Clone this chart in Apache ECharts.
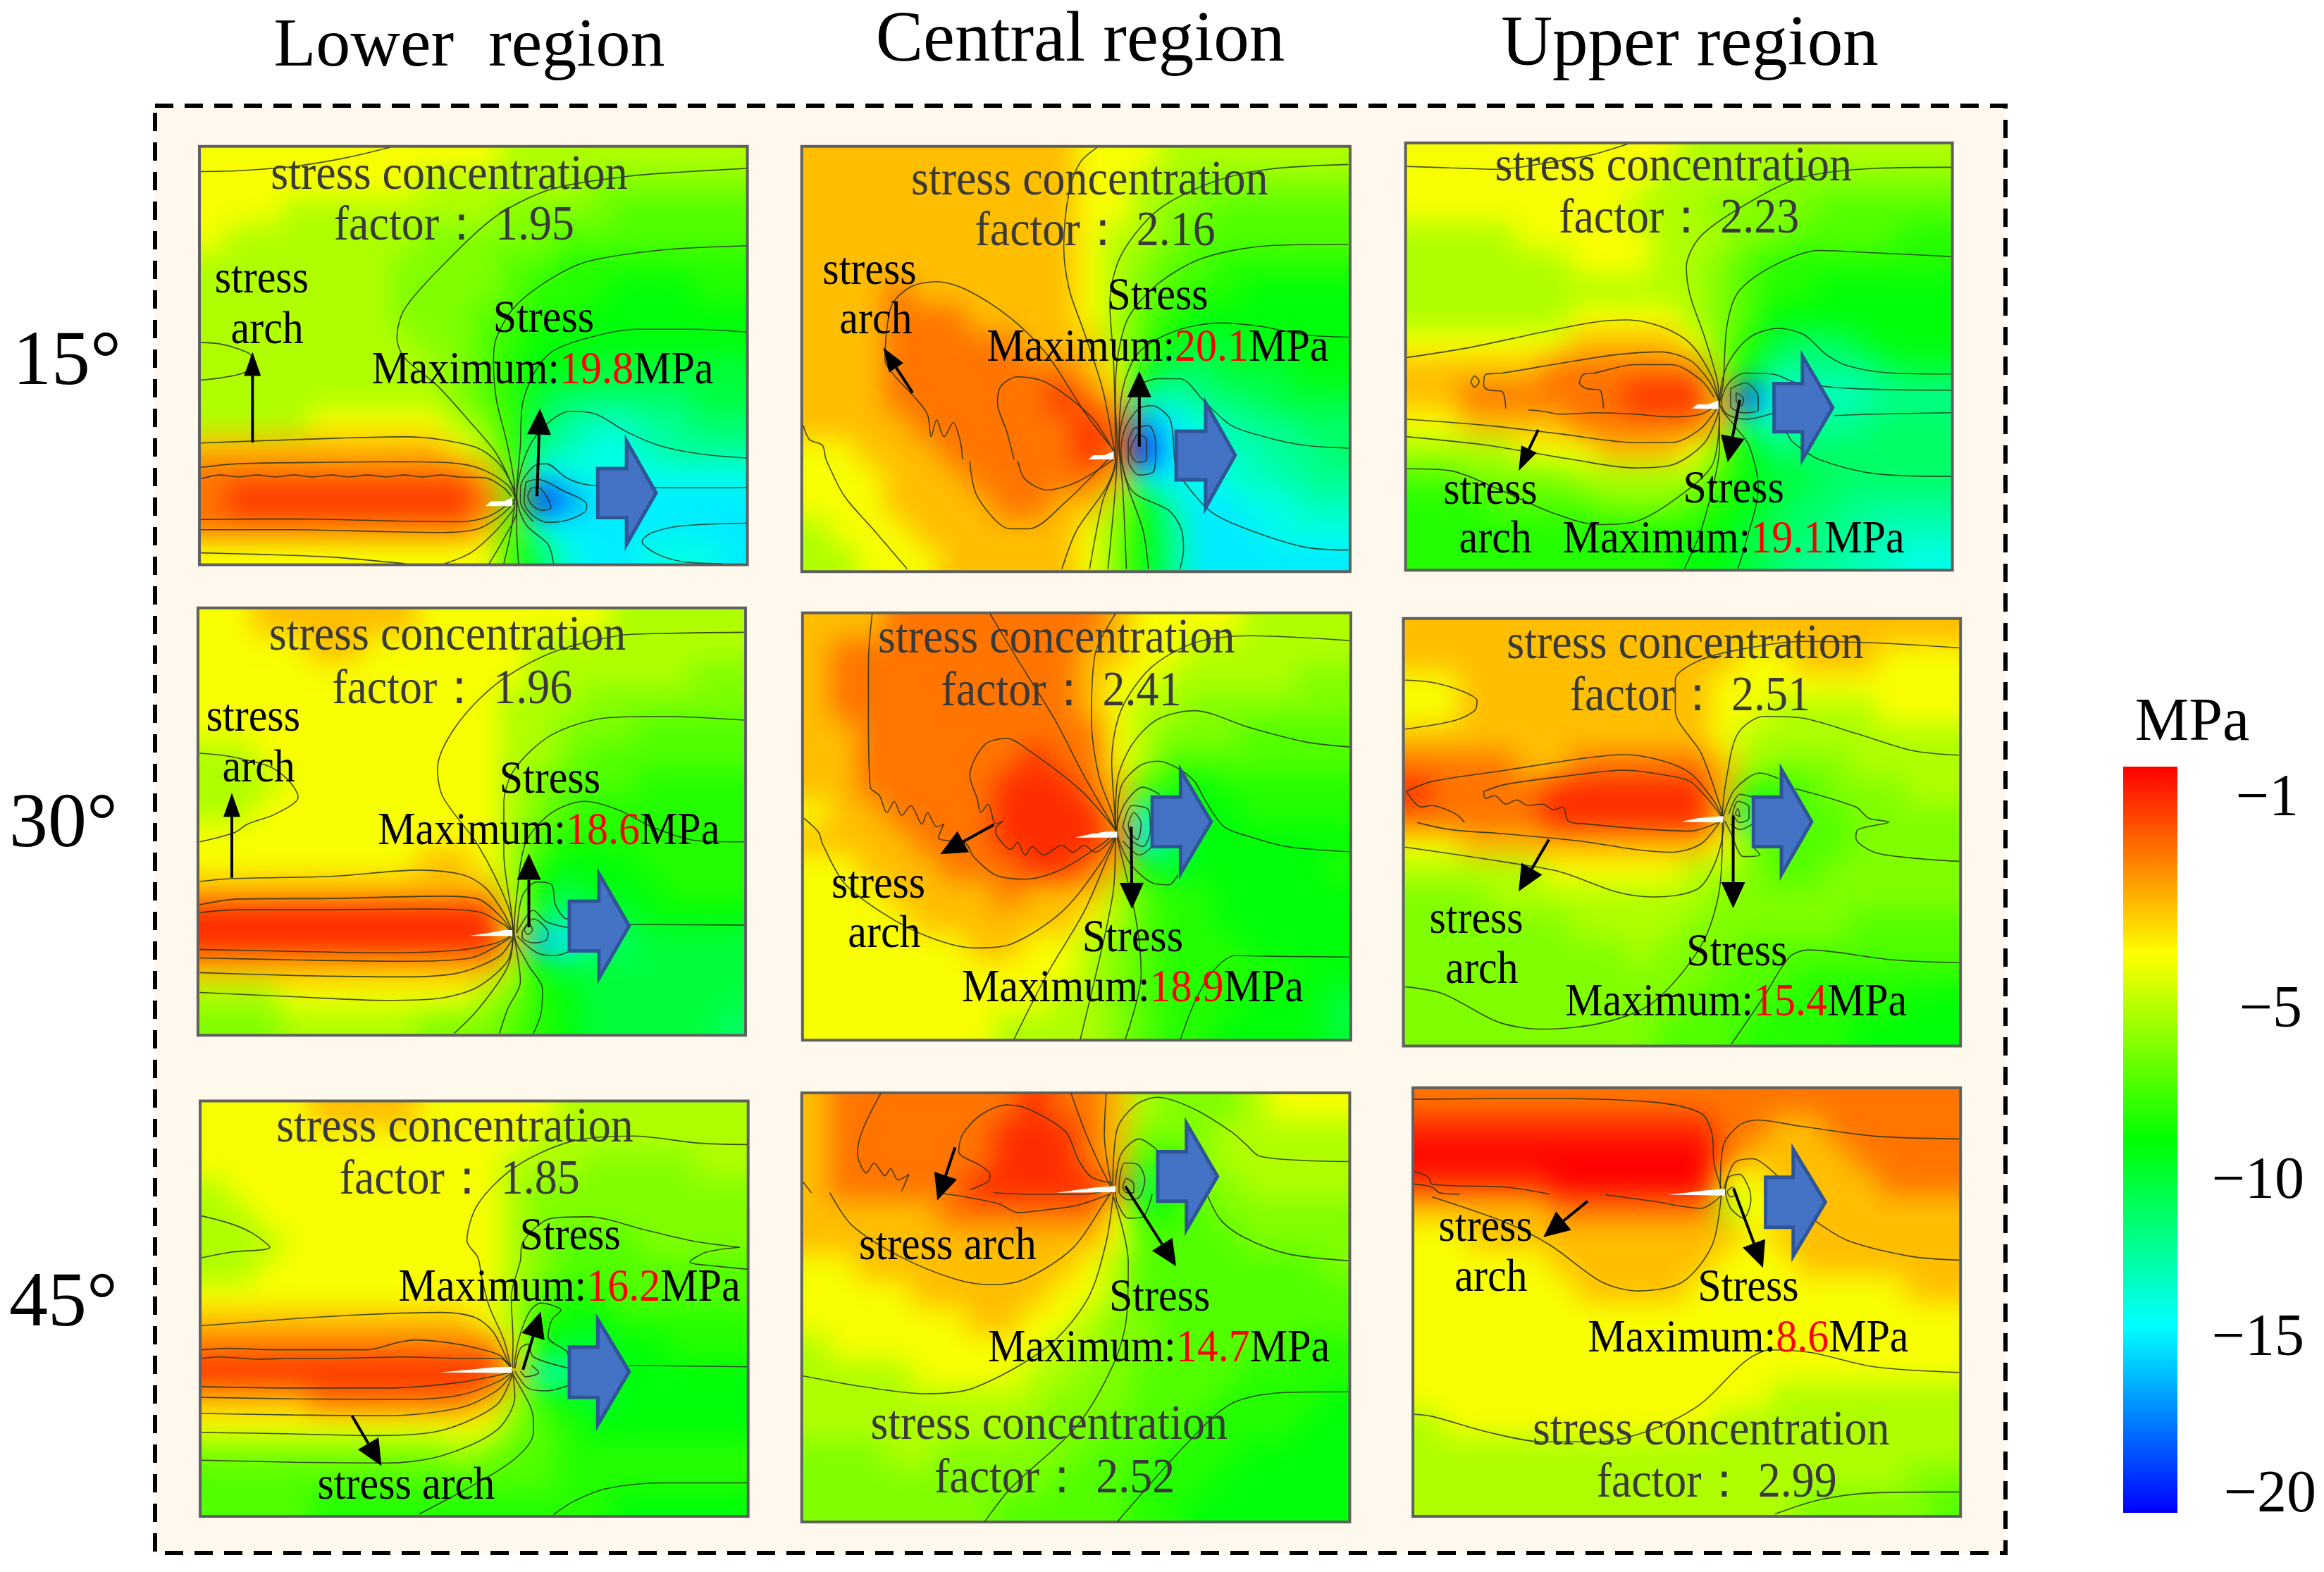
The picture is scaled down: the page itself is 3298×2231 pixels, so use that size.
<!DOCTYPE html>
<html><head><meta charset="utf-8"><title>Stress contours</title>
<style>html,body{margin:0;padding:0;background:#fff}#page{position:relative;width:3298px;height:2231px;overflow:hidden}
.abs{position:absolute}</style>
<script src="https://cdn.jsdelivr.net/npm/echarts@6/dist/echarts.min.js"></script></head>
<body><div id="page"></div>
<script>
// Compressive stress magnitude (MPa), 20 columns x 16 rows. Colour bar shows the negative sign.
const heat15Lower=[
[4,4,4,4,4,4,4,4,4,4,4,5,5,5,5,5,5,5,5,5],[4,4,4,4,4,4,4,4,5,5,5,5,5,5,6,6,6,6,6,6],[4,4,4,5,5,5,5,5,5,5,5,6,6,6,6,7,7,7,7,7],[4,5,5,5,5,5,5,5,6,6,6,6,6,7,7,7,7,7,7,7],
[5,5,5,5,5,5,5,6,6,6,6,7,7,8,8,8,8,8,8,8],[5,5,5,5,5,5,5,6,6,6,6,7,8,8,8,9,9,9,8,8],[5,5,5,5,5,5,5,6,6,6,7,7,8,8,9,9,9,9,9,9],[5,5,5,5,5,5,5,5,6,6,7,8,9,9,9,9,9,9,9,9],
[5,5,5,5,5,5,5,5,5,6,7,8,9,9,10,10,10,10,10,10],[5,5,5,5,5,5,5,5,5,6,7,8,10,11,11,11,11,11,10,10],[5,5,5,5,4,4,4,4,4,5,6,8,11,12,13,13,12,12,11,11],[3,3,3,3,3,3,3,3,3,4,5,8,12,13,14,14,13,12,12,12],
[2,2,2,2,2,2,2,2,2,2,3,7,15,14,14,14,14,14,14,14],[2,1,1,1,1,1,1,1,1,1,2,6,20,17,15,15,15,15,15,15],[2,2,2,2,2,2,2,2,2,2,3,7,14,15,15,15,15,15,15,15],[4,4,4,4,4,4,4,4,4,4,4,8,11,14,15,15,14,14,14,15]];
const heat15Central=[
[3,3,3,3,3,3,3,3,3,3,4,4,4,5,5,5,5,5,5,5],[3,3,3,3,3,3,3,3,3,3,4,4,5,5,6,6,6,6,6,6],[3,3,3,3,3,3,3,3,3,3,4,4,5,6,6,7,7,7,7,7],[3,3,3,3,3,3,3,3,3,3,4,5,5,6,7,7,7,7,7,7],
[3,3,3,3,3,3,3,3,3,3,4,5,6,7,7,8,8,8,8,8],[3,3,3,2,3,3,3,3,3,3,4,5,6,7,8,8,9,9,9,9],[3,3,3,2,2,2,3,3,3,3,4,5,7,8,9,9,9,9,9,9],[3,3,3,2,2,2,2,2,3,3,3,5,7,9,10,10,9,9,9,9],
[3,3,3,2,2,2,2,2,2,2,3,4,9,11,11,10,10,10,9,9],[3,3,3,2,2,2,2,2,2,1,2,3,13,13,12,11,11,10,10,10],[3,3,3,3,2,2,2,2,2,2,1,2,17,15,14,13,12,12,11,11],[4,4,3,3,3,2,2,2,2,2,1,2,20,15,14,13,13,12,12,11],
[4,4,4,3,3,3,2,2,2,2,2,3,14,15,14,14,13,13,12,12],[4,4,4,3,3,3,3,2,2,3,3,5,9,13,15,15,14,14,13,13],[5,4,4,4,3,3,3,3,3,3,4,6,9,12,15,15,15,14,14,14],[5,5,4,4,4,3,3,3,3,3,4,6,9,12,15,15,15,15,15,15]];
const heat15Upper=[
[4,4,4,4,4,4,4,4,4,4,5,5,5,5,5,5,5,5,5,5],[4,4,4,4,4,4,4,4,4,5,5,5,5,6,6,6,6,6,6,6],[4,4,4,4,4,4,4,4,5,5,5,6,6,6,6,7,7,7,7,7],[5,5,5,5,4,4,4,4,4,5,5,5,6,6,7,7,7,7,8,8],
[5,5,5,5,5,5,4,4,4,5,5,6,7,8,8,8,8,8,8,8],[5,5,5,5,5,5,5,5,5,5,5,6,7,8,8,9,9,9,9,9],[5,5,5,5,5,5,4,4,4,4,5,6,7,9,9,9,9,9,9,9],[4,4,4,4,4,4,3,3,3,3,4,6,8,10,11,11,10,9,9,9],
[3,3,3,3,3,2,2,2,2,2,2,5,9,12,12,12,12,11,10,10],[3,3,2,2,2,2,2,2,1,1,1,3,19,14,14,13,13,12,12,12],[4,4,3,3,3,3,2,2,2,2,2,3,12,13,13,12,12,11,11,11],[5,5,5,5,4,4,4,3,3,3,4,6,9,11,11,11,11,11,11,11],
[7,7,6,6,6,6,5,5,5,5,5,7,9,10,10,11,11,11,11,11],[8,8,8,7,7,7,7,6,6,6,7,8,9,10,11,11,12,12,12,12],[8,8,8,8,8,8,8,8,8,8,8,9,10,11,11,12,12,13,13,13],[8,8,8,8,8,8,8,8,8,8,9,9,10,11,12,12,13,13,14,14]];
const heat30Lower=[
[4,4,3,3,3,3,3,3,4,4,4,4,4,4,4,5,5,5,5,5],[4,4,4,4,3,3,4,4,4,4,4,4,5,5,5,5,5,5,5,5],[4,4,4,4,4,4,4,4,4,4,4,4,5,5,5,5,5,5,6,6],[4,4,4,4,4,4,4,4,4,4,4,5,5,5,6,6,6,6,6,6],
[4,4,4,4,4,4,4,4,4,4,4,5,5,6,6,6,7,7,7,7],[5,5,4,4,4,4,4,4,4,4,4,5,5,6,7,7,7,7,7,7],[5,5,5,4,4,4,4,4,4,4,4,5,6,7,7,7,8,8,8,8],[5,5,4,4,4,4,4,4,4,4,4,5,6,7,8,8,8,8,8,8],
[4,4,4,4,4,4,4,4,4,4,4,5,7,8,8,8,8,8,8,8],[4,4,4,4,4,4,4,4,3,3,4,5,8,9,9,9,8,8,8,8],[3,3,3,3,3,3,3,3,3,3,3,5,9,10,9,9,9,8,8,8],[1,1,1,1,1,1,1,1,1,1,1,4,10,12,11,10,9,9,9,9],
[1,1,1,1,1,1,1,1,1,1,1,3,16,15,12,11,10,10,10,10],[3,3,3,3,3,3,3,3,3,3,3,5,9,10,10,10,10,10,10,10],[5,5,5,4,4,4,4,4,4,4,5,6,8,9,10,10,10,10,10,10],[6,6,6,5,5,5,5,5,6,6,6,7,8,9,10,10,10,10,10,11]];
const heat30Central=[
[3,3,3,2,2,2,2,2,2,2,2,3,4,4,4,4,5,5,5,5],[3,2,2,2,2,2,2,2,2,2,3,3,4,4,5,5,5,5,5,5],[3,2,2,2,2,2,2,2,2,2,3,4,4,5,5,5,5,5,6,6],[3,2,2,2,2,2,2,2,2,2,3,4,5,5,6,6,6,6,6,6],
[3,3,2,2,2,2,2,2,2,2,2,4,5,6,6,6,7,7,7,7],[3,3,2,2,2,2,2,2,1,2,2,4,5,7,7,7,7,7,7,7],[3,3,2,2,2,2,2,1,1,1,2,3,7,8,9,8,8,8,8,8],[4,3,3,2,2,2,2,1,1,1,1,3,13,10,9,9,8,8,8,8],
[3,3,3,3,2,2,2,1,1,1,1,2,15,11,9,9,9,9,9,9],[4,4,3,3,3,2,2,2,1,1,2,3,9,10,9,9,9,9,9,8],[4,4,4,3,3,3,3,2,3,3,3,5,7,8,8,9,9,9,9,9],[4,4,4,4,3,3,3,3,3,3,4,5,7,8,8,9,9,9,9,9],
[4,4,4,4,4,4,3,3,4,4,5,6,7,8,8,8,9,9,9,9],[4,4,4,4,4,4,4,4,4,4,5,6,7,8,8,8,8,8,9,9],[4,4,4,4,4,4,4,4,4,5,5,6,7,8,8,8,9,9,9,10],[4,4,4,4,4,4,4,5,5,5,5,6,7,8,8,9,9,9,9,10]];
const heat30Upper=[
[3,3,3,3,3,3,3,3,3,3,3,3,3,3,3,3,3,3,3,3],[3,3,3,3,3,3,3,3,3,3,3,3,4,4,3,3,3,4,4,4],[4,4,3,3,3,3,3,3,3,3,3,4,4,4,4,4,4,4,4,4],[4,4,3,3,3,3,3,3,3,3,3,4,4,5,5,5,5,4,4,4],
[3,3,3,3,3,3,3,3,3,3,3,4,5,5,5,5,5,5,5,5],[2,2,2,2,3,3,2,2,2,2,2,3,5,6,6,6,5,5,5,5],[1,2,2,2,2,1,1,1,1,1,1,3,8,8,7,6,6,6,5,5],[2,2,2,2,2,1,1,1,1,1,1,3,12,7,7,7,6,6,6,6],
[4,4,3,3,3,3,3,3,3,3,3,4,6,7,7,7,6,6,6,6],[5,5,5,5,5,4,4,4,4,4,5,5,6,7,7,6,6,6,6,6],[6,6,6,5,5,5,5,5,5,5,5,6,6,6,6,6,6,6,6,6],[6,6,6,6,6,6,5,5,5,5,6,6,6,6,6,6,7,7,7,7],
[6,6,6,6,6,6,6,6,5,6,6,6,7,7,7,7,7,7,7,7],[6,6,6,6,6,6,6,6,6,6,6,7,7,7,8,8,8,8,8,8],[6,6,6,6,6,6,6,6,6,6,7,7,7,8,8,8,8,8,9,9],[6,6,6,6,6,6,6,6,6,7,7,7,8,8,8,8,9,9,9,9]];
const heat45Lower=[
[4,4,4,4,3,3,3,3,4,4,4,4,4,5,5,5,5,5,5,5],[4,4,4,4,4,4,4,4,4,4,4,4,5,5,5,5,5,5,5,5],[4,4,4,4,4,4,4,4,4,4,4,5,5,5,6,6,6,6,5,5],[5,4,4,4,4,4,4,4,4,4,4,5,6,6,6,6,6,6,6,6],
[5,5,4,4,4,4,4,4,4,4,4,5,6,6,6,6,6,6,6,6],[5,5,5,4,4,4,4,4,4,4,4,5,6,7,7,7,6,6,6,6],[5,5,4,4,4,4,4,4,4,4,4,5,6,7,7,7,7,7,7,7],[4,4,4,4,4,4,4,4,4,4,4,5,7,8,8,7,7,7,7,7],
[3,3,3,3,3,3,3,3,3,3,4,5,8,9,9,8,8,8,8,8],[2,2,2,2,2,2,2,2,2,2,2,4,9,10,10,9,9,8,8,8],[1,1,1,1,1,1,1,1,1,1,1,3,13,12,10,9,9,9,9,9],[3,3,3,3,2,2,2,2,2,2,3,5,8,9,10,9,9,9,9,9],
[4,4,4,4,4,4,4,4,4,4,4,6,7,8,9,9,9,9,9,9],[6,6,6,6,6,6,6,6,6,5,6,7,7,8,8,8,8,8,8,8],[7,7,7,7,7,7,7,7,7,7,7,7,7,8,8,8,8,8,8,8],[7,7,7,7,8,8,8,8,8,8,8,8,8,8,8,9,9,9,9,9]];
const heat45Central=[
[3,2,2,2,2,2,2,2,1,2,2,3,5,6,6,6,5,4,4,4],[3,2,2,2,2,2,2,1,1,1,2,3,6,6,6,5,5,5,5,5],[3,2,2,2,2,2,2,1,1,1,2,3,7,8,6,5,5,5,5,5],[3,2,2,2,2,2,1,1,1,1,1,2,11,8,6,6,5,5,5,5],
[3,3,3,3,3,2,2,2,2,2,2,4,8,8,7,6,6,6,6,6],[3,3,3,3,3,3,3,3,3,3,3,4,7,7,7,7,6,6,6,6],[4,4,3,3,3,3,3,3,3,3,4,5,7,7,7,7,7,7,7,6],[4,4,4,4,3,3,3,3,3,4,4,5,7,7,7,7,7,7,7,7],
[4,4,4,4,4,4,3,3,4,4,5,6,6,7,7,7,7,7,7,7],[5,4,4,4,4,4,4,4,4,5,5,6,6,7,7,7,7,7,8,8],[5,5,5,5,4,4,4,4,5,5,6,6,7,7,7,7,8,8,8,8],[5,5,5,5,5,5,5,5,5,6,6,6,7,7,7,8,8,8,8,9],
[5,5,5,5,5,5,5,5,6,6,6,7,7,7,8,8,8,8,9,9],[6,6,6,5,5,6,6,6,6,6,7,7,7,8,8,8,9,9,9,9],[6,6,6,6,6,6,6,6,6,7,7,7,8,8,8,9,9,9,9,9],[6,6,6,6,6,6,6,7,7,7,7,7,8,8,9,9,9,9,9,9]];
const heat45Upper=[
[2,2,2,2,2,2,2,2,2,2,2,2,2,2,2,2,2,2,2,2],[1,1,1,1,1,1,1,1,1,1,1,2,2,3,3,2,2,2,2,2],[0,0,0,0,0,0,0,0,0,0,0,2,3,3,3,3,2,2,2,2],[1,1,1,1,1,0,0,0,0,0,0,4,4,3,3,3,3,2,2,2],
[3,3,3,3,3,2,2,2,2,2,2,5,4,4,3,3,3,3,3,3],[4,4,3,3,3,3,3,3,3,3,3,3,4,3,3,3,3,3,3,3],[4,4,4,4,4,3,3,3,3,3,3,4,4,4,3,3,3,3,3,3],[4,4,4,4,4,4,3,3,3,3,4,4,4,4,4,4,4,4,3,3],
[4,4,4,4,4,4,4,4,4,4,4,4,4,4,4,4,4,4,4,4],[4,4,4,4,4,4,4,4,4,4,4,4,4,4,4,4,4,4,4,4],[4,4,4,4,4,4,4,4,4,4,4,4,4,4,4,4,4,4,4,4],[4,4,4,4,4,4,4,4,4,4,4,4,4,5,5,5,5,5,5,5],
[5,4,4,4,4,4,4,4,4,4,4,5,5,5,5,5,5,5,5,5],[5,5,5,5,5,5,5,5,5,5,5,5,5,5,5,5,5,5,5,5],[5,5,5,5,5,5,5,5,5,5,5,5,5,5,5,5,5,5,6,6],[5,5,5,5,5,5,5,5,5,5,5,5,5,5,6,6,6,6,6,7]];

// Colour of each integer magnitude 0..20.
const scaleColors=['#ff0000','#ff2d00','#ff7500','#ffbe00','#f8ff00','#afff00','#80ff00','#52ff00','#24ff00','#00ff0b','#00ff3a','#00ff66','#00ff90','#00ffbb','#00ffe6','#00edff','#00c2ff','#0098ff','#006dff','#0042ff','#0017ff'];
const barColors=['#ff0000','#ffff00','#00ff00','#00ffff','#0000ff'];
const barLabels=['−1','−5','−10','−15','−20'];
const barLabelFraction=[0.044,0.328,0.557,0.768,0.977];
const barLabelRight=[3262,3267,3270,3270,3287];
const columnTitles=['Lower  region','Central region','Upper region'];
const rowTitles=['15°','30°','45°'];

// Contour lines, traced in zoom-crop units of each panel.
const lines15Lower=[
[[48,133],[150,130],[300,115],[440,85],[560,48]],
[[1528,122],[1350,135],[1205,150],[1000,195],[850,290],[700,470],[600,620],[580,720],[600,790],[690,890],[780,1020],[850,1130],[900,1270],[905,1330],[870,1430],[830,1518]],
[[1528,395],[1300,410],[1100,450],[1000,510],[900,610],[850,720],[842,800],[850,940],[880,1100],[900,1270],[890,1400],[870,1518]],
[[1528,700],[1380,690],[1230,690],[1100,720],[1000,770],[950,850],[920,960],[915,1100],[905,1270],[905,1400],[910,1518]],
[[1528,1145],[1400,1130],[1290,1100],[1200,1050],[1120,990],[1050,980],[1000,1010],[950,1080],[920,1170],[905,1280],[930,1380],[990,1450],[1005,1518]],
[[1528,1250],[1280,1250],[1100,1240],[1040,1215],[985,1165],[950,1175],[915,1250],[915,1300],[950,1370]],
[[930,1230],[960,1220],[1030,1260],[1095,1310],[1090,1335],[1040,1365],[990,1372],[950,1350],[925,1300],[930,1230]],
[[945,1250],[965,1250],[990,1290],[998,1320],[975,1330],[950,1315],[935,1280],[945,1250]],
[[1528,1375],[1350,1385],[1270,1410],[1245,1440],[1280,1480],[1350,1510],[1460,1518]],
[[48,737],[100,742],[150,760],[185,785],[175,835],[150,850],[100,862],[48,870]],
[[48,1092],[190,1085],[420,1075],[600,1070],[700,1080],[800,1110],[860,1170],[900,1260]],
[[48,1178],[150,1165],[400,1160],[600,1158],[750,1165],[820,1190],[880,1240],[900,1280]],
[[48,1218],[100,1205],[150,1212],[200,1205],[250,1212],[300,1205],[350,1212],[400,1205],[450,1212],[500,1205],[550,1212],[600,1205],[650,1212],[700,1205],[750,1212],[820,1215],[870,1250],[890,1280]],
[[48,1362],[300,1360],[600,1368],[750,1370],[830,1350],[900,1290]],
[[48,1398],[300,1398],[550,1405],[700,1408],[800,1395],[860,1350],[900,1300]],
[[48,1480],[200,1485],[400,1495],[600,1518]],
[[710,1518],[780,1480],[850,1400],[900,1320]]];
const lines15Central=[
[[835,48],[790,100],[760,200],[745,400],[760,550],[800,700],[850,900],[880,1100],[885,1150],[860,1250],[780,1400],[740,1537]],
[[1517,108],[1300,125],[1150,170],[1000,270],[900,430],[870,600],[880,800],[885,1100],[885,1160],[850,1300],[815,1537]],
[[1517,390],[1300,395],[1120,440],[1000,530],[920,650],[890,800],[885,950],[890,1100],[885,1250],[865,1537]],
[[1517,718],[1400,710],[1280,680],[1170,668],[1050,695],[950,770],[905,900],[895,1100],[905,1250],[915,1537]],
[[1517,1110],[1400,1100],[1290,1070],[1200,1030],[1130,950],[1060,865],[1000,865],[950,890],[910,980],[895,1100],[920,1250],[960,1400],[975,1537]],
[[1517,1470],[1400,1460],[1250,1400],[1150,1340],[1090,1260],[1050,1180],[1040,1050],[1030,1000],[985,960],[950,970],[915,1030],[900,1110],[930,1260],[1030,1330],[1065,1400],[1070,1470],[1060,1537]],
[[935,1040],[975,1030],[995,1100],[990,1190],[950,1205],[920,1150],[920,1090],[935,1040]],
[[945,1060],[970,1080],[970,1150],[945,1160],[925,1120],[945,1060]],
[[470,1150],[465,1090],[445,1020],[420,1070],[400,1010],[385,1070],[375,990],[340,930],[290,860],[260,800],[265,690],[280,600],[330,540],[400,522],[480,550],[600,650],[700,780],[800,980],[870,1100]],
[[490,1155],[510,1280],[600,1395],[650,1395],[750,1300],[880,1130]],
[[610,1150],[590,1050],[565,950],[575,890],[620,858],[700,880],[820,1000],[880,1120]],
[[620,1155],[640,1220],[700,1258],[780,1230],[880,1150]],
[[38,1030],[55,1080],[90,1100],[100,1150],[150,1280],[230,1400],[320,1537]]];
const lines15Upper=[
[[32,115],[150,120],[280,125],[420,100],[530,75],[630,36]],
[[1508,118],[1300,122],[1100,155],[950,250],[830,360],[790,470],[800,570],[840,720],[875,880],[878,950],[880,1100],[870,1200],[830,1400],[785,1535]],
[[1508,433],[1300,420],[1150,412],[1020,470],[930,560],[900,680],[890,880],[880,950]],
[[1508,848],[1350,845],[1230,820],[1170,780],[1110,710],[1040,687],[960,720],[900,820],[880,950],[920,1030],[960,1100],[985,1250],[950,1450],[930,1535]],
[[1508,905],[1250,900],[1090,880],[1030,850],[950,845],[905,880],[885,950],[900,990],[950,1008],[1030,985]],
[[1508,985],[1300,990],[1190,995]],
[[1508,1210],[1300,1200],[1150,1150],[1080,1090],[1060,1050]],
[[910,900],[950,880],[985,930],[985,975],[945,985],[910,960],[910,900]],
[[925,915],[945,935],[940,960],[925,940],[925,915]],
[[32,790],[200,755],[400,700],[540,665],[630,657],[720,680],[800,740],[860,860],[878,950]],
[[32,1008],[250,1030],[450,1060],[650,1090],[750,1090],[830,1040],[878,960]],
[[32,1070],[250,1100],[480,1150],[650,1180],[750,1170],[840,1090],[878,980]],
[[32,1183],[150,1190],[280,1255],[430,1340],[550,1380],[650,1370],[760,1290],[860,1170],[880,1000]],
[[300,970],[290,910],[255,905],[240,890],[245,850],[290,845],[450,810],[600,780],[720,770],[800,800],[850,870],[878,940]],
[[565,970],[555,905],[520,900],[500,880],[510,850],[540,845],[650,815],[750,815],[830,870],[865,930]],
[[360,975],[400,980],[450,990],[550,985],[650,990],[750,1000],[830,990],[875,955]],
[[205,875],[215,855],[228,875],[215,895],[205,875]]];
const lines30Lower=[
[[1522,118],[1300,122],[1180,130],[1000,190],[850,300],[740,450],[690,600],[705,700],[800,870],[880,1080],[895,1180],[880,1300],[800,1450],[735,1535]],
[[1522,428],[1300,415],[1150,420],[1000,480],[900,600],[870,720],[870,900],[890,1100],[897,1180],[915,1350],[880,1450],[858,1535]],
[[1522,858],[1400,855],[1280,810],[1180,745],[1090,715],[1000,755],[930,860],[905,1050],[898,1180],[935,1290],[975,1380],[970,1470],[950,1535]],
[[905,1180],[920,1050],[960,1000],[1000,1010],[1010,1080],[1040,1130],[1047,1130]],
[[1522,1152],[1210,1150]],
[[905,1180],[950,1100],[985,1140],[1047,1162]],
[[905,1190],[960,1250],[1010,1260],[1047,1245]],
[[920,1175],[950,1130],[990,1180],[985,1205],[950,1215],[920,1195],[920,1175]],
[[925,1170],[938,1145],[948,1170],[935,1185],[925,1170]],
[[45,545],[120,555],[230,590],[285,640],[312,700],[250,760],[175,795],[140,825],[45,858]],
[[45,998],[130,988],[400,980],[640,958],[760,975],[820,1020],[870,1110],[892,1170]],
[[45,1080],[150,1060],[400,1058],[700,1050],[800,1060],[860,1120],[890,1170]],
[[45,1108],[150,1098],[400,1098],[650,1095],[800,1105],[870,1150],[890,1175]],
[[45,1238],[300,1245],[550,1250],[750,1240],[850,1215],[890,1190]],
[[45,1268],[300,1275],[600,1280],[780,1268],[890,1195]],
[[45,1320],[300,1330],[600,1335],[750,1320],[860,1260],[895,1195]],
[[45,1390],[300,1405],[550,1418],[700,1410],[800,1370],[880,1280],[895,1200]]];
const lines30Central=[
[[545,28],[620,190],[720,400],[800,600],[885,790]],
[[885,28],[830,170],[820,400],[840,600],[885,790],[885,810],[860,900],[800,1080],[700,1300],[610,1530]],
[[1520,122],[1250,105],[1100,130],[980,220],[900,370],[875,550],[885,790],[885,810],[880,1000],[850,1200],[790,1530]],
[[1520,498],[1400,480],[1250,430],[1100,370],[1000,400],[930,490],[890,620],[885,790],[890,820],[940,1100],[955,1300],[912,1530]],
[[1520,868],[1350,850],[1250,815],[1180,780],[1130,690],[1100,620],[1050,570],[1000,548],[950,565],[900,640],[890,790],[920,900],[980,975],[1030,985],[1055,950]],
[[885,800],[910,700],[960,640],[1005,665]],
[[985,850],[950,880],[905,830]],
[[905,780],[930,705],[975,720],[980,790],[960,850],[925,825],[905,780]],
[[920,770],[935,730],[955,770],[945,825],[925,800],[920,770]],
[[1520,1240],[1350,1238],[1210,1235],[1150,1290],[1100,1400],[1062,1530]],
[[225,28],[215,200],[215,400],[220,640],[245,670],[265,730],[285,690],[305,740],[330,705],[360,770],[375,730],[400,780],[420,770],[405,820],[440,830],[480,840],[500,885],[560,950],[640,965],[740,930],[850,840],[885,800]],
[[885,790],[790,650],[650,510],[590,468],[530,490],[490,600],[510,680],[520,730],[540,700],[560,770],[580,760],[560,790],[565,815],[600,860],[620,835],[640,880],[660,850],[690,880],[740,845],[770,870],[800,845],[830,870],[885,810]],
[[40,750],[80,800],[90,840],[150,980],[260,1090],[380,1170],[500,1208],[600,1195],[740,1080],[850,900],[885,810]]];
const lines30Upper=[
[[1530,148],[1300,130],[1100,125],[950,150],[830,190],[760,260],[760,370],[830,520],[880,700],[888,745],[888,760],[880,1000],[830,1200],[700,1400],[570,1470],[400,1495],[280,1470],[130,1370],[27,1345]],
[[27,262],[100,270],[180,300],[222,335],[215,370],[160,405],[27,435]],
[[1530,527],[1400,510],[1250,450],[1100,395],[1000,390],[930,450],[900,600],[888,745],[892,760],[870,900],[820,1000],[700,1028],[600,1010],[450,940],[300,905],[27,852]],
[[1085,645],[1250,710],[1285,750],[1340,763],[1255,790],[1250,820],[1300,870],[1400,890],[1530,902]],
[[890,745],[920,650],[990,590],[1040,610]],
[[970,850],[990,880],[945,885],[910,800],[895,760]],
[[905,735],[935,665],[970,675]],
[[970,770],[935,790],[910,770]],
[[915,735],[930,690],[960,710],[960,750],[935,765],[915,735]],
[[922,735],[930,715],[935,745],[922,735]],
[[1530,1260],[1350,1250],[1120,1215],[1070,1240],[1000,1380],[912,1548]],
[[30,655],[100,620],[300,580],[500,540],[620,525],[720,545],[800,590],[860,680],[888,745]],
[[240,655],[300,630],[500,595],[620,580],[720,595],[800,620],[860,700],[885,745]],
[[240,655],[245,680],[270,670],[300,700],[330,685],[360,705],[400,700],[430,720],[455,710],[470,760],[520,770],[600,780],[700,790],[800,795],[885,760]],
[[30,655],[70,710],[100,705],[140,720],[170,740],[188,765]],
[[60,765],[150,790],[300,805],[500,830],[650,860],[750,870],[830,840],[885,755]]];
const lines45Lower=[
[[1530,210],[1400,205],[1220,180],[1050,200],[900,290],[800,420],[770,550],[800,610],[810,680],[830,780],[870,900],[890,1000],[895,1020],[950,1180],[950,1230],[880,1340],[640,1515]],
[[1510,573],[1380,550],[1250,510],[1100,465],[1000,470],[920,560],[915,620],[890,750],[895,900],[893,1000]],
[[1530,650],[1450,640],[1375,625],[1420,590],[1510,573]],
[[50,462],[130,490],[190,525],[235,573],[130,590],[50,610]],
[[897,1000],[910,900],[940,800],[970,770],[1025,795],[1000,830],[990,890],[1040,940],[1047,965]],
[[1530,995],[1210,990]],
[[900,1000],[915,930],[935,915],[950,960],[1047,1000]],
[[900,1010],[935,1070],[985,1080],[1047,1060]],
[[915,1010],[930,1030],[965,1015],[945,990]],
[[50,850],[300,825],[500,810],[700,803],[790,820],[840,870],[885,990]],
[[50,935],[120,930],[250,935],[500,935],[580,910],[630,900],[720,910],[800,930],[860,955],[890,1000]],
[[50,965],[100,960],[200,968],[300,965],[400,965],[600,960],[750,965],[860,965],[890,1000]],
[[50,1065],[300,1070],[550,1070],[750,1050],[890,1015]],
[[50,1103],[300,1108],[600,1110],[750,1095],[850,1050],[893,1015]],
[[50,1160],[300,1165],[550,1168],[750,1140],[850,1080],[893,1020]],
[[50,1227],[300,1232],[500,1238],[700,1220],[850,1130],[893,1025]],
[[50,1325],[300,1332],[550,1335],[700,1310],[850,1220],[900,1100],[895,1025]],
[[1530,1405],[1300,1405],[1150,1425],[1060,1470],[1005,1517]]];
const lines45Central=[
[[765,55],[800,180],[840,300],[875,390]],
[[860,55],[855,200],[875,380]],
[[1517,295],[1380,290],[1275,275],[1240,235],[1200,190],[1100,110],[1000,68],[940,95],[890,180],[878,380]],
[[880,400],[860,580],[810,780],[700,950],[500,1095],[370,1115],[200,1090],[38,1052]],
[[880,420],[920,650],[915,850],[880,1010],[780,1230],[600,1450],[530,1568]],
[[885,380],[900,270],[950,215],[995,250],[1000,265]],
[[985,410],[960,490],[920,495],[890,440],[885,400]],
[[895,370],[910,300],[945,305],[965,360],[950,420],[920,430],[895,400],[895,370]],
[[905,385],[915,355],[935,375],[935,405],[915,405],[905,385]],
[[1517,645],[1350,620],[1230,560],[1170,500],[1135,415]],
[[1517,1108],[1350,1110],[1200,1150],[1080,1290],[890,1568]],
[[248,55],[200,180],[185,265],[210,335],[230,300],[260,345],[275,320],[295,360],[325,340],[305,400]],
[[875,370],[820,350],[785,290],[750,190],[650,110],[590,95],[520,130],[470,200],[460,260],[520,310],[545,340],[540,365],[490,395]],
[[400,405],[480,420],[570,445],[620,475],[700,465],[780,450],[870,410]],
[[555,405],[650,410],[800,410],[870,395]],
[[110,405],[170,520],[300,630],[450,710],[550,730],[640,710],[770,600],[860,430],[878,395]],
[[38,368],[60,405]]];
const lines45Upper=[
[[52,75],[400,72],[700,85],[830,125],[860,200],[865,300],[885,390]],
[[885,410],[860,590],[780,720],[660,752],[560,720],[420,590],[300,510],[100,420]],
[[52,330],[90,350],[100,375],[300,385],[420,410]],
[[52,375],[100,385],[120,405],[175,410]],
[[570,412],[700,435],[830,460],[885,415]],
[[1530,215],[1300,205],[1100,170],[980,148],[930,170],[890,240],[882,390]],
[[890,400],[920,300],[970,285],[1040,350]],
[[1140,505],[1230,575],[1400,630],[1530,643]],
[[895,400],[905,350],[935,340],[960,390],[965,430],[945,495],[910,460],[895,400]],
[[900,400],[915,385],[925,410],[910,420],[900,400]],
[[1530,1040],[1300,1020],[1130,970],[1020,960],[950,1000],[830,1150],[700,1240],[550,1285],[400,1285],[250,1250],[100,1195],[52,1188]],
[[1530,1462],[1300,1465],[1150,1490],[1030,1540]]];

// Annotation marks in the same crop units: crack sliver, mining-direction arrow, black arrows (x1,y1,x2,y2,big?), texts.
const crack=[
[[820,1315],[835,1298],[870,1298],[893,1285],[893,1315]],[[812,1150],[825,1135],[855,1135],[880,1122],[880,1150]],[[805,970],[820,955],[850,955],[877,942],[877,972]],
[[775,1190],[830,1180],[870,1170],[893,1170],[893,1190]],[[775,818],[820,805],[860,797],[890,797],[890,818]],[[775,762],[820,750],[860,745],[890,742],[890,765]],
[[695,1015],[780,1005],[840,997],[892,995],[892,1017]],[[725,405],[780,395],[840,385],[885,382],[885,403]],[[740,412],[790,405],[840,397],[895,392],[895,415]]];
const blueArrow=[
[[1125,1182],[1203,1182],[1203,1085],[1283,1268],[1203,1450],[1203,1355],[1125,1355]],[[1050,1050],[1130,1050],[1130,950],[1210,1135],[1130,1320],[1130,1222],[1050,1222]],[[1028,882],[1105,882],[1105,785],[1187,967],[1105,1150],[1105,1052],[1028,1052]],
[[1048,1068],[1128,1068],[1128,970],[1210,1155],[1128,1340],[1128,1243],[1048,1243]],[[985,675],[1062,675],[1062,580],[1145,762],[1062,945],[1062,850],[985,850]],[[972,675],[1048,675],[1048,578],[1130,762],[1048,948],[1048,850],[972,850]],
[[1048,925],[1125,925],[1125,828],[1210,1012],[1125,1200],[1125,1103],[1048,1103]],[[1000,260],[1078,260],[1078,160],[1162,347],[1078,535],[1078,435],[1000,435]],[[1005,350],[1080,350],[1080,252],[1167,438],[1080,628],[1080,527],[1005,527]]];
const blackArrows=[
[[188,1090,188,770,0],[960,1280,968,970,1]],[[335,915,255,755,0],[950,1105,950,838,1]],[[388,1045,335,1190,0],[935,940,902,1160,1]],
[[132,985,132,685,0],[938,1160,938,900,1]],[[555,773,410,877,1],[928,780,930,1070,1]],[[417,825,335,1008,1],[917,740,917,1068,1]],
[[922,1005,970,800,1],[458,1168,538,1345,1]],[[450,245,402,432,1],[912,382,1050,665,1]],[[522,435,402,562,1],[918,390,998,670,1]]];
const factors=['1.95','2.16','2.23','1.96','2.41','2.51','1.85','2.52','2.99'];
const maxima=['19.8','20.1','19.1','18.6','18.9','15.4','16.2','14.7','8.6'];
const factorPlace=[[722,140,735,320],[815,160,830,340],[755,110,770,295],[717,125,730,315],[725,110,738,298],[787,130,800,315],[737,145,750,330],[705,1222,720,1410],[857,1240,872,1425]];
const stressPlace=[[978,650,975,830],[1000,570,1000,750],[918,1252,918,1428],[995,635,992,815],[932,1170,932,1345],[927,1218,925,1395],[1050,530,1048,712],[1005,770,1003,950],[958,735,958,915]];
const archPlace=[[[213,510,'stress'],[228,688,'arch']],[[218,480,'stress'],[235,655,'arch']],[[258,1255,'stress'],[272,1428,'arch']],[[190,415,'stress'],[205,595,'arch']],[[242,980,'stress'],[258,1155,'arch']],[[220,1105,'stress'],[235,1280,'arch']],[[605,1410,'stress arch']],[[430,590,'stress arch']],[[245,525,'stress'],[260,700,'arch']]];

const heats=[heat15Lower,heat15Central,heat15Upper,heat30Lower,heat30Central,heat30Upper,heat45Lower,heat45Central,heat45Upper];
const contours=[lines15Lower,lines15Central,lines15Upper,lines30Lower,lines30Central,lines30Upper,lines45Lower,lines45Central,lines45Upper];
// Crop origin of each panel and its frame in crop units: x0,x1,y0,y1.
const origins=[[260,190],[1120,190],[1980,190],[260,850],[1120,860],[1980,860],[260,1540],[1120,1530],[1980,1530]];
const frames=[[44,1531,44,1522],[34,1522,44,1546],[28,1512,32,1541],[40,1526,32,1541],[36,1524,24,1534],[22,1534,44,1554],[46,1533,56,1523],[34,1521,52,1568],[48,1534,34,1548]];

const KX=820/1568, KY=630/1568, SERIF='"Liberation Serif","Times New Roman",serif', PAD=2;
const page=document.getElementById('page');
const cream=document.createElement('div');cream.className='abs';
cream.style.cssText='left:220px;top:150px;width:2626px;height:2054px;background:#fff8ec';page.appendChild(cream);

function rect(i){const o=origins[i],f=frames[i];return {l:o[0]+f[0]*KX,t:o[1]+f[2]*KY,w:(f[1]-f[0])*KX,h:(f[3]-f[2])*KY};}

heats.forEach((h,i)=>{
  const r=rect(i),cols=h[0].length,rows=h.length,cw=r.w/cols,ch=r.h/rows;
  const clip=document.createElement('div');clip.className='abs';
  clip.style.cssText=`left:${r.l}px;top:${r.t}px;width:${r.w}px;height:${r.h}px;overflow:hidden`;
  const inner=document.createElement('div');inner.className='abs';
  const W=r.w+2*PAD*cw,H=r.h+2*PAD*ch;
  inner.style.cssText=`left:${-PAD*cw}px;top:${-PAD*ch}px;width:${W}px;height:${H}px;filter:blur(19px)`;
  clip.appendChild(inner);page.appendChild(clip);
  const cells=[];
  for(let y=-PAD;y<rows+PAD;y++)for(let x=-PAD;x<cols+PAD;x++){
    const yy=Math.min(rows-1,Math.max(0,y)),xx=Math.min(cols-1,Math.max(0,x));
    cells.push([x+PAD,y+PAD,h[yy][xx]]);
  }
  const c=echarts.init(inner,null,{width:W,height:H});
  c.setOption({animation:false,
    grid:{left:0,right:0,top:0,bottom:0},
    xAxis:{type:'category',show:false,data:Array.from({length:cols+2*PAD},(_,k)=>k)},
    yAxis:{type:'category',show:false,inverse:true,data:Array.from({length:rows+2*PAD},(_,k)=>k)},
    visualMap:{show:false,min:0,max:20,dimension:2,inRange:{color:scaleColors}},
    series:[{type:'heatmap',data:cells,progressive:0,itemStyle:{borderWidth:0},silent:true}]});
});

const ov=document.createElement('div');ov.className='abs';ov.style.cssText='left:0;top:0;width:3298px;height:2231px';page.appendChild(ov);
const chart=echarts.init(ov,null,{width:3298,height:2231});

const grids=[],xAxes=[],yAxes=[],series=[];
heats.forEach((_,i)=>{
  const r=rect(i),f=frames[i];
  grids.push({left:r.l,top:r.t,width:r.w,height:r.h,show:true,backgroundColor:'transparent',borderColor:'#606060',borderWidth:4,z:1});
  xAxes.push({type:'value',gridIndex:i,min:f[0],max:f[1],show:false});
  yAxes.push({type:'value',gridIndex:i,min:f[2],max:f[3],inverse:true,show:false});
  contours[i].forEach(pts=>series.push({type:'line',xAxisIndex:i,yAxisIndex:i,data:pts,smooth:0.3,showSymbol:false,silent:true,z:2,
    lineStyle:{color:'rgba(38,48,24,0.85)',width:1.6}}));
  const polyItem=(pts,fill,stroke,lw)=>(params,api)=>({type:'polygon',shape:{points:pts.map(p=>api.coord(p))},style:{fill:fill,stroke:stroke,lineWidth:lw}});
  series.push({type:'custom',xAxisIndex:i,yAxisIndex:i,data:[crack[i][0]],silent:true,z:3,renderItem:polyItem(crack[i],'#ffffff',null,0)});
  series.push({type:'custom',xAxisIndex:i,yAxisIndex:i,data:[blueArrow[i][0]],silent:true,z:4,renderItem:polyItem(blueArrow[i],'#4472c4','#2f5597',5)});
  series.push({type:'custom',xAxisIndex:i,yAxisIndex:i,silent:true,z:5,data:blackArrows[i].map(a=>[a[0],a[1]]),
    renderItem:(params,api)=>{
      const a=blackArrows[i][params.dataIndex],p=api.coord([a[0],a[1]]),q=api.coord([a[2],a[3]]);
      const d=Math.hypot(q[0]-p[0],q[1]-p[1]),ux=(q[0]-p[0])/d,uy=(q[1]-p[1])/d,len=a[4]?37:34,w=(a[4]?34:24)/2;
      const b=[q[0]-ux*len,q[1]-uy*len];
      return {type:'group',children:[
        {type:'line',shape:{x1:p[0],y1:p[1],x2:b[0],y2:b[1]},style:{stroke:'#000',lineWidth:4}},
        {type:'polygon',shape:{points:[q,[b[0]-uy*w,b[1]+ux*w],[b[0]+uy*w,b[1]-ux*w]]},style:{fill:'#000'}}]};
    }});
  const texts=[
    [factorPlace[i][0],factorPlace[i][1],'stress concentration','#3a3a3a',null],
    [factorPlace[i][2],factorPlace[i][3],'factor： '+factors[i],'#3a3a3a',null],
    [stressPlace[i][0],stressPlace[i][1],'Stress','#000',null],
    [stressPlace[i][2],stressPlace[i][3],'{k|Maximum:}{r|'+maxima[i]+'}{k|MPa}','#000',1]
  ].concat(archPlace[i].map(t=>[t[0],t[1],t[2],'#000',null]));
  series.push({type:'custom',xAxisIndex:i,yAxisIndex:i,silent:true,z:6,data:texts.map(t=>[t[0],t[1]]),
    renderItem:(params,api)=>{
      const t=texts[params.dataIndex],p=api.coord([t[0],t[1]]);
      const fs=t[3]==='#3a3a3a'?64:60;
      const style={text:t[2],x:0,y:0,fill:t[3],fontFamily:SERIF,fontSize:fs,align:'center',verticalAlign:'middle'};
      if(t[4])style.rich={k:{fill:'#000',fontFamily:SERIF,fontSize:60},r:{fill:'#ff0000',fontFamily:SERIF,fontSize:60}};
      return {type:'text',x:p[0],y:p[1]+3,scaleY:1.1,style:style};
    }});
});

const stops=barColors.map((c,k)=>({offset:k/(barColors.length-1),color:c}));
const BAR={x:3013,y:1088,w:77,h:1059};
const graphic=[
  {type:'rect',z:0,shape:{x:220,y:150,width:2626,height:2054},style:{fill:'transparent',stroke:'#000',lineWidth:6,lineDash:[26,16]}},
  {type:'rect',shape:{x:BAR.x,y:BAR.y,width:BAR.w,height:BAR.h},style:{fill:new echarts.graphic.LinearGradient(0,0,0,1,stops)}},
  {type:'text',x:3111,y:1027,style:{text:'MPa',font:'86px '+SERIF,fill:'#000',align:'center',verticalAlign:'middle'}}
];
barLabels.forEach((t,k)=>graphic.push({type:'text',x:barLabelRight[k],y:BAR.y+BAR.h*barLabelFraction[k],style:{text:t,font:'84px '+SERIF,fill:'#000',align:'right',verticalAlign:'middle'}}));
[666,1533,2398].forEach((x,k)=>graphic.push({type:'text',x:x,y:[67,59,65][k],style:{text:columnTitles[k],font:(k?101:98)+'px '+SERIF,fill:'#000',align:'center',verticalAlign:'middle'}}));
[[95,516],[90,1172],[90,1852]].forEach((p,k)=>graphic.push({type:'text',x:p[0],y:p[1],style:{text:rowTitles[k],font:'110px '+SERIF,fill:'#000',align:'center',verticalAlign:'middle'}}));

chart.setOption({animation:false,backgroundColor:'transparent',grid:grids,xAxis:xAxes,yAxis:yAxes,series:series,graphic:graphic});
</script></body></html>
